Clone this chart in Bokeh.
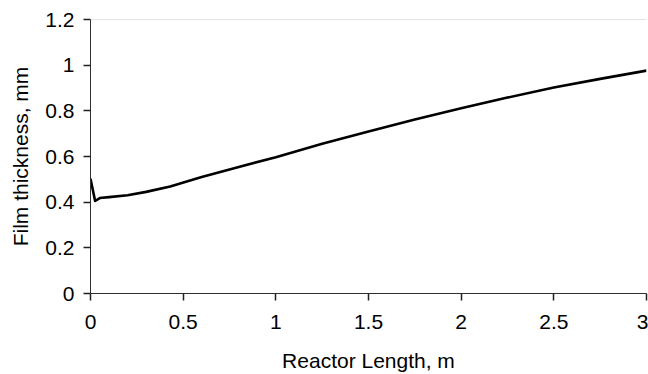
from bokeh.plotting import figure
from bokeh.models import FixedTicker, Span, Range1d
from bokeh.embed import file_html
from bokeh.resources import INLINE

# Data
length_m = [0.0, 0.025, 0.05, 0.1, 0.2, 0.3, 0.43, 0.6, 0.8, 1.0, 1.25, 1.5, 1.75, 2.0, 2.25, 2.5, 2.75, 3.0]
thickness_mm = [0.503, 0.405, 0.418, 0.422, 0.43, 0.445, 0.469, 0.51, 0.554, 0.597, 0.656, 0.71, 0.762, 0.811, 0.858, 0.902, 0.94, 0.976]

x_ticks = [0, 0.5, 1, 1.5, 2, 2.5, 3]
x_tick_labels = ["0", "0.5", "1", "1.5", "2", "2.5", "3"]
y_ticks = [0, 0.2, 0.4, 0.6, 0.8, 1, 1.2]
y_tick_labels = ["0", "0.2", "0.4", "0.6", "0.8", "1", "1.2"]

FONT = "Liberation Sans"

p = figure(width=648, height=374, output_backend="svg", toolbar_location=None,
           x_range=Range1d(0, 3), y_range=Range1d(0, 1.2),
           min_border_left=90, min_border_right=2, min_border_top=19, min_border_bottom=81)
p.outline_line_color = None
p.xgrid.grid_line_color = None
p.ygrid.grid_line_color = None
p.background_fill_color = "white"
p.border_fill_color = "white"

p.line(length_m, thickness_mm, line_color="black", line_width=2.6, line_join="round")

p.add_layout(Span(location=1.2, dimension="width", line_color="#c8c8c8", line_width=1))

axis_col = "#303030"
for ax in (p.xaxis[0], p.yaxis[0]):
    ax.axis_line_color = axis_col
    ax.axis_line_width = 1
    ax.major_tick_line_color = "#202020"
    ax.major_tick_line_width = 1.5
    ax.minor_tick_line_color = None
    ax.major_tick_in = 0
    ax.major_tick_out = 7
    ax.major_label_text_font = FONT
    ax.major_label_text_font_size = "21px"
    ax.major_label_text_color = "black"
    ax.axis_label_text_font = FONT
    ax.axis_label_text_font_size = "21px"
    ax.axis_label_text_font_style = "normal"
    ax.axis_label_text_color = "black"

p.xaxis.ticker = FixedTicker(ticks=x_ticks)
p.xaxis.major_label_overrides = {t: l for t, l in zip(x_ticks, x_tick_labels)}
p.yaxis.ticker = FixedTicker(ticks=y_ticks)
p.yaxis.major_label_overrides = {t: l for t, l in zip(y_ticks, y_tick_labels)}

p.xaxis.axis_label = "Reactor Length, m"
p.yaxis.axis_label = "Film thickness, mm"
p.xaxis.major_label_standoff = 14
p.yaxis.major_label_standoff = 9
p.xaxis.axis_label_standoff = 17
p.yaxis.axis_label_standoff = 10

open("out.html", "w").write(file_html(p, INLINE))
